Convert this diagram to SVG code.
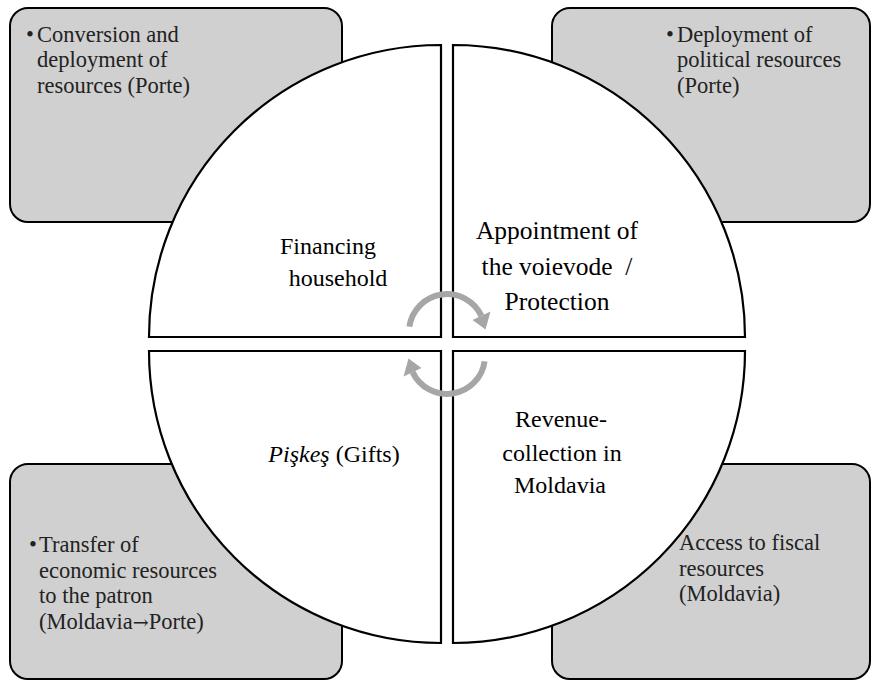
<svg xmlns="http://www.w3.org/2000/svg" width="873" height="682" viewBox="0 0 873 682">
<style>
.box{fill:#d0d0d0;stroke:#000;stroke-width:2}
.quad{fill:#fff;stroke:#000;stroke-width:2.2}
.qt{font-family:"Liberation Serif",serif;font-size:24px;fill:#000;text-anchor:middle}
.qt2{font-size:25.5px}
.ct{font-family:"Liberation Serif",serif;font-size:22.5px;fill:#222}
.arc{fill:none;stroke:#a6a6a6;stroke-width:6}
.head{fill:#a6a6a6}
</style>
<rect width="873" height="682" fill="#fff"/>
<g id="box-tl"><rect class="box" x="10" y="8" width="332" height="214" rx="18"/>
<text class="ct" x="26" y="41.5">•</text>
<text class="ct" x="37" y="41.5">Conversion and</text>
<text class="ct" x="37" y="67">deployment of</text>
<text class="ct" x="37" y="92.5">resources (Porte)</text></g>
<g id="box-tr"><rect class="box" x="552" y="8" width="318" height="214" rx="18"/>
<text class="ct" x="666" y="41.5">•</text>
<text class="ct" x="677" y="41.5">Deployment of</text>
<text class="ct" x="677" y="67">political resources</text>
<text class="ct" x="677" y="92.5">(Porte)</text></g>
<g id="box-bl"><rect class="box" x="10" y="464" width="332" height="215" rx="18"/>
<text class="ct" x="29" y="552">•</text>
<text class="ct" x="39" y="552">Transfer of</text>
<text class="ct" x="39" y="577.5">economic resources</text>
<text class="ct" x="39" y="603">to the patron</text>
<text class="ct" x="39" y="628.5">(Moldavia<tspan font-family="'DejaVu Serif',serif" font-size="19px">→</tspan>Porte)</text></g>
<g id="box-br"><rect class="box" x="552" y="464" width="318" height="215" rx="18"/>
<text class="ct" x="679" y="550">Access to fiscal</text>
<text class="ct" x="679" y="575.5">resources</text>
<text class="ct" x="679" y="601">(Moldavia)</text></g>
<g id="quad-tl"><path class="quad" d="M441,337 L149,337 A292,292 0 0 1 441,45 Z"/>
<text class="qt" x="328" y="254">Financing</text>
<text class="qt" x="338" y="286">household</text></g>
<g id="quad-tr"><path class="quad" d="M453,337 L453,45 A292,292 0 0 1 745,337 Z"/>
<text class="qt qt2" x="557" y="239">Appointment of</text>
<text class="qt qt2" x="557" y="275" style="white-space:pre">the voievode  /</text>
<text class="qt qt2" x="557" y="310">Protection</text></g>
<g id="quad-br"><path class="quad" d="M453,351 L745,351 A292,292 0 0 1 453,643 Z"/>
<text class="qt" x="561" y="427">Revenue-</text>
<text class="qt" x="562" y="461">collection in</text>
<text class="qt" x="560" y="493">Moldavia</text></g>
<g id="quad-bl"><path class="quad" d="M441,351 L441,643 A292,292 0 0 1 149,351 Z"/>
<text class="qt" x="334" y="462"><tspan font-style="italic">Pişkeş</tspan> (Gifts)</text></g>
<g id="connectors">
<path class="arc" d="M409.4,326.7 A38,38 0 0 1 481.4,315.9"/>
<polygon class="head" points="472.5,320 490.5,311.5 485.5,329.5"/>
<path class="arc" d="M484.6,361.3 A38,38 0 0 1 412.6,372.1"/>
<polygon class="head" points="421.5,368 403.5,376.5 408.5,358.5"/>
</g>
</svg>
